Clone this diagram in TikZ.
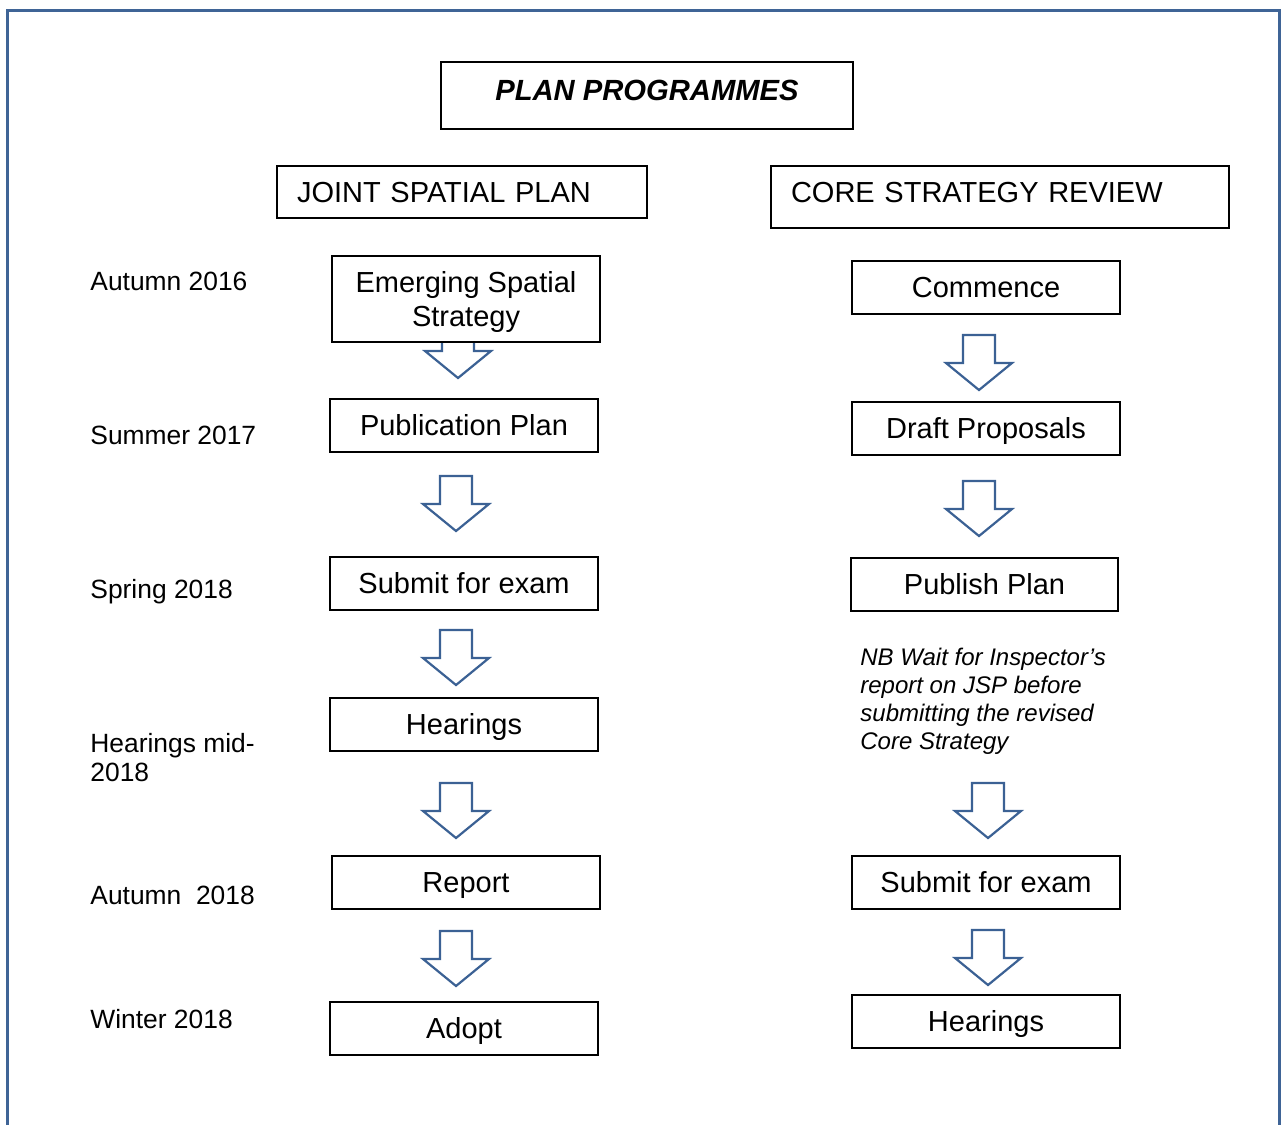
\documentclass[tikz,border=0pt]{standalone}
\usepackage{fontspec}
\setmainfont{Liberation Sans}
\usepackage{xcolor}
\usepackage{tikz}
\usetikzlibrary{positioning}
\definecolor{frameblue}{HTML}{3F6496}
\definecolor{arrowblue}{HTML}{3B6194}
\tikzset{
    stagebox/.style={
        rectangle, draw, line width=1pt, fill=white,
        minimum width=134pt, minimum height=26.5pt, inner sep=0pt,
        text height=11pt, text depth=1pt, align=center,
        font=\fontsize{14.5}{17}\selectfont
    },
    headbox/.style={
        rectangle, draw, line width=1pt, anchor=north west,
        inner xsep=10pt, inner ysep=6pt, text height=12pt, text depth=2pt,
        align=left, font=\fontsize{14.5}{17}\selectfont
    },
    datelabel/.style={
        anchor=north west, inner sep=0pt, align=left,
        font=\fontsize{13.2}{14.5}\selectfont
    },
    arrowline/.style={
        draw=arrowblue, line width=1.1pt, line join=miter
    },
    downarrow/.pic={
        \draw[arrowline, fill=white] (-16,0) -- (16,0) -- (16,28) -- (33,28)
            -- (0,55) -- (-33,28) -- (-16,28) -- cycle;
    }
}

\begin{document}
\begin{tikzpicture}[x=0.5pt, y=-0.5pt]
    \useasboundingbox (0,0) rectangle (1284,1124);

    % outer frame, open at the bottom
    \draw[frameblue, line width=1.5pt] (7,1130) -- (7,10) -- (1279,10) -- (1279,1130);

    \node[rectangle, draw, line width=1pt, minimum width=206pt, minimum height=33.5pt,
          text height=11pt, text depth=6pt, inner sep=0pt,
          font=\fontsize{14.6}{17}\selectfont\bfseries\itshape] (title) at (647,95.5) {PLAN PROGRAMMES};

    \node[headbox, text width=165pt] (jsp) at (276,165) {JOINT SPATIAL PLAN};
    \node[headbox, text width=209pt, text depth=7pt] (csr) at (770,165) {CORE STRATEGY REVIEW};

    % block arrows go first so the boxes cover their tails
    \pic at (458,323) {downarrow};
    \pic at (456,476) {downarrow};
    \pic at (456,630) {downarrow};
    \pic at (456,783) {downarrow};
    \pic at (456,931) {downarrow};

    \pic at (979,335) {downarrow};
    \pic at (979,481) {downarrow};
    \pic at (988,783) {downarrow};
    \pic at (988,930) {downarrow};

    % joint spatial plan
    \node[stagebox, minimum height=43pt, text height=28pt, text depth=1pt] (jsp1) at (466,299) {Emerging Spatial\\Strategy};
    \node[stagebox] (jsp2) at (464,425.5) {Publication Plan};
    \node[stagebox] (jsp3) at (464,583.5) {Submit for exam};
    \node[stagebox] (jsp4) at (464,724.5) {Hearings};
    \node[stagebox] (jsp5) at (466,882.5) {Report};
    \node[stagebox] (jsp6) at (464,1028.5) {Adopt};

    % core strategy review
    \node[stagebox] (csr1) at (986,287.5) {Commence};
    \node[stagebox] (csr2) at (986,428.5) {Draft Proposals};
    \node[stagebox, minimum width=133.5pt] (csr3) at (984.5,584.5) {Publish Plan};
    \node[stagebox] (csr4) at (986,882.5) {Submit for exam};
    \node[stagebox] (csr5) at (986,1021.5) {Hearings};

    \node[anchor=north west, inner sep=0pt, align=left,
          font=\fontsize{12}{14}\selectfont\itshape] (note) at (860,648)
        {NB Wait for Inspector’s\\report on JSP before\\submitting the revised\\Core Strategy};

    % dates
    \node[datelabel] (d1) at (90,271.5) {Autumn 2016};
    \node[datelabel] (d2) at (90,425.5) {Summer 2017};
    \node[datelabel] (d3) at (90,578.5) {Spring 2018};
    \node[datelabel] (d4) at (90,732.5) {Hearings mid-\\2018};
    \node[datelabel] (d5) at (90,885.5) {Autumn\ \ 2018};
    \node[datelabel] (d6) at (90,1008.5) {Winter 2018};

\end{tikzpicture}
\end{document}
